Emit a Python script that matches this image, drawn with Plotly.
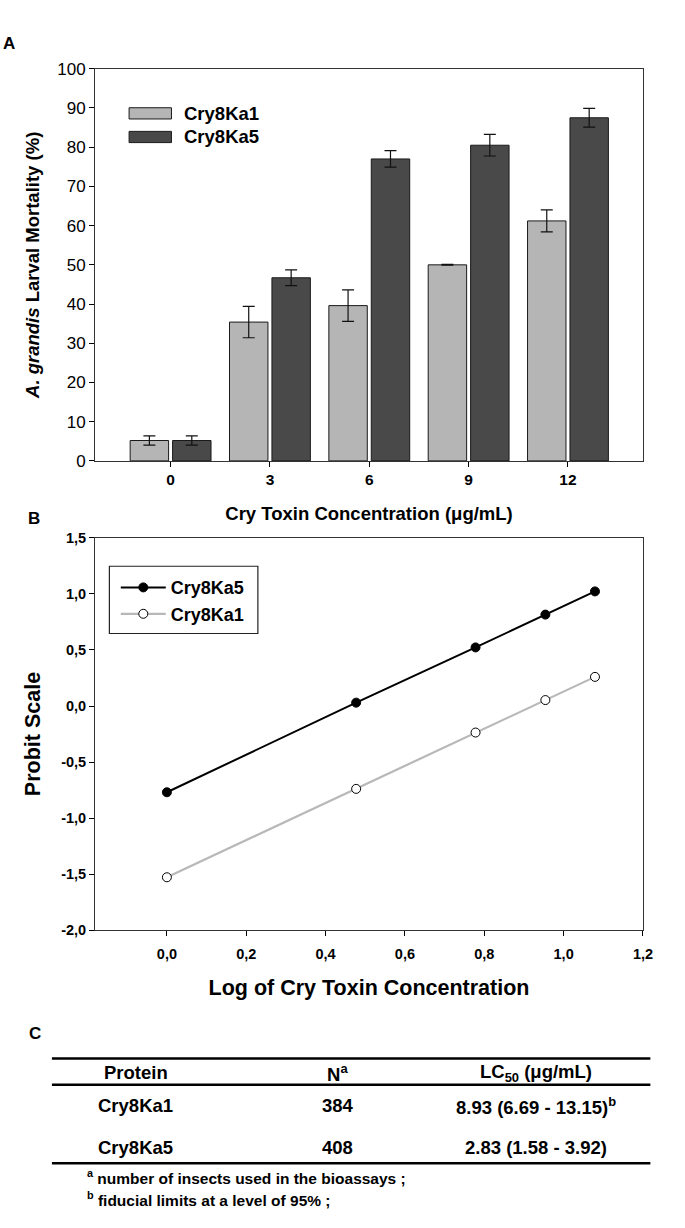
import plotly.graph_objects as go

# ---------------- Data ----------------
conc_labels = ["0", "3", "6", "9", "12"]
cry8ka1_mort = [5.2, 35.4, 39.6, 50.0, 61.2]
cry8ka1_err = [1.2, 4.0, 4.0, 0.1, 2.8]
cry8ka5_mort = [5.2, 46.7, 77.0, 80.5, 87.5]
cry8ka5_err = [1.2, 2.0, 2.1, 2.75, 2.4]

log_conc = [0.0, 0.477, 0.778, 0.954, 1.079]
probit_ka5 = [-0.77, 0.03, 0.523, 0.816, 1.023]
probit_ka1 = [-1.529, -0.74, -0.237, 0.053, 0.26]

probit_ticks = [-2.0, -1.5, -1.0, -0.5, 0.0, 0.5, 1.0, 1.5]
log_ticks = [0.0, 0.2, 0.4, 0.6, 0.8, 1.0, 1.2]

tbl_protein = ["Cry8Ka1", "Cry8Ka5"]
tbl_n = ["384", "408"]
tbl_lc50 = ["8.93 (6.69 - 13.15)<sup>b</sup>", "2.83 (1.58 - 3.92)"]
footnotes = ["<sup>a</sup> number of insects used in the bioassays ;",
             "<sup>b</sup> fiducial limits at a level of 95% ;"]

LIGHT = "#b5b5b5"
DARK = "#494949"
FONT = "Liberation Sans, Arial, sans-serif"
W, H = 685, 1228


def px(x):
    return x / W


def py(y):
    return 1 - y / H


def comma(v):
    return f"{v:.1f}".replace(".", ",")


fig = go.Figure()
xpos = list(range(len(conc_labels)))

fig.add_trace(go.Bar(
    x=xpos, y=cry8ka1_mort, name="Cry8Ka1", marker=dict(color=LIGHT, line=dict(color="#1a1a1a", width=1)),
    error_y=dict(type="data", array=cry8ka1_err, color="#111", thickness=1.2, width=6),
    xaxis="x", yaxis="y", showlegend=False))
fig.add_trace(go.Bar(
    x=xpos, y=cry8ka5_mort, name="Cry8Ka5", marker=dict(color=DARK, line=dict(color="#1a1a1a", width=1)),
    error_y=dict(type="data", array=cry8ka5_err, color="#111", thickness=1.2, width=6),
    xaxis="x", yaxis="y", showlegend=False))

fig.add_trace(go.Scatter(
    x=log_conc, y=probit_ka5, name="Cry8Ka5", mode="lines+markers",
    line=dict(color="black", width=2),
    marker=dict(color="black", size=9, line=dict(color="black", width=1)),
    xaxis="x2", yaxis="y2"))
fig.add_trace(go.Scatter(
    x=log_conc, y=probit_ka1, name="Cry8Ka1", mode="lines+markers",
    line=dict(color="#b8b8b8", width=2.2),
    marker=dict(color="white", size=9, line=dict(color="black", width=1)),
    xaxis="x2", yaxis="y2"))

xdom = [px(96.5), px(652.5)]

fig.update_layout(
    width=W, height=H, margin=dict(l=0, r=0, t=0, b=0),
    paper_bgcolor="white", plot_bgcolor="white",
    font=dict(family=FONT, color="black"),
    barmode="group", bargap=0.146, bargroupgap=0.094,
    xaxis=dict(domain=xdom, anchor="y", range=[-0.76, 4.755],
               tickvals=xpos, ticktext=conc_labels,
               tickfont=dict(size=15.5, family=FONT, weight="bold"),
               ticks="outside", ticklen=5, tickcolor="black",
               showline=True, linecolor="#333", linewidth=1, mirror=True,
               showgrid=False, zeroline=False,
               title=dict(text="<b>Cry Toxin Concentration (μg/mL)</b>",
                          font=dict(size=18.5, family=FONT), standoff=19)),
    yaxis=dict(domain=[py(459), py(60.7)], anchor="x", range=[0, 100], dtick=10,
               tickfont=dict(size=17, family=FONT),
               ticks="outside", ticklen=5, tickcolor="black",
               showline=True, linecolor="#333", linewidth=1, mirror=True,
               showgrid=False, zeroline=False,
               title=dict(text="<b><i>A. grandis</i> Larval Mortality (%)</b>",
                          font=dict(size=18.5, family=FONT), standoff=12)),
    xaxis2=dict(domain=xdom, anchor="y2", range=[-0.181, 1.2],
                tickvals=log_ticks, ticktext=[comma(v) for v in log_ticks],
                tickfont=dict(size=14.5, family=FONT, weight="bold"),
                ticks="outside", ticklen=5, tickcolor="black",
                showline=True, linecolor="#333", linewidth=1, mirror=True,
                showgrid=False, zeroline=False, ticklabelstandoff=6,
                title=dict(text="<b>Log of Cry Toxin Concentration</b>",
                           font=dict(size=21.5, family=FONT), standoff=18)),
    yaxis2=dict(domain=[py(935.5), py(537.3)], anchor="x2", range=[-2.0, 1.5],
                tickvals=probit_ticks, ticktext=[comma(v) for v in probit_ticks],
                tickfont=dict(size=14.5, family=FONT, weight="bold"),
                ticks="outside", ticklen=5, tickcolor="black",
                showline=True, linecolor="#333", linewidth=1, mirror=True,
                showgrid=False, zeroline=False,
                title=dict(text="<b>Probit Scale</b>",
                           font=dict(size=21.5, family=FONT), standoff=14)),
    legend=dict(x=px(117.5), y=py(569), xanchor="left", yanchor="top",
                borderwidth=0, bgcolor="rgba(0,0,0,0)",
                font=dict(size=18, family=FONT, weight="bold"),
                itemwidth=45, tracegroupgap=0),
)

ann = []
shapes = []

# legend frame for probit panel
shapes.append(dict(type="rect", xref="paper", yref="paper",
                   x0=px(111), x1=px(261.7), y0=py(634.3), y1=py(566),
                   fillcolor="rgba(0,0,0,0)", line=dict(color="#222", width=1.2), layer="above"))

# panel letters
for letter, xx, yy in [("A", 9.5, 35.5), ("B", 34, 517), ("C", 36, 1041)]:
    ann.append(dict(text=f"<b>{letter}</b>", x=px(xx), y=py(yy), xref="paper", yref="paper",
                    showarrow=False, font=dict(size=17, family=FONT), xanchor="center", yanchor="middle"))

# manual legend for bar chart
for i, (nm, col) in enumerate([("Cry8Ka1", LIGHT), ("Cry8Ka5", DARK)]):
    yc = 106 + i * 24
    shapes.append(dict(type="rect", xref="paper", yref="paper",
                       x0=px(131), x1=px(174), y0=py(yc - 5.7), y1=py(yc + 5.7),
                       fillcolor=col, line=dict(color="#1a1a1a", width=1)))
    ann.append(dict(text=f"<b>{nm}</b>", x=px(185), y=py(yc), xref="paper", yref="paper",
                    showarrow=False, xanchor="left", yanchor="middle", font=dict(size=18.5, family=FONT)))

# table
for yy in [1066, 1092.7, 1172.3]:
    shapes.append(dict(type="line", xref="paper", yref="paper", x0=px(52.7), x1=px(660),
                       y0=py(yy), y1=py(yy), line=dict(color="black", width=2.5)))
col_x = [138, 342.5, 544]
headers = ["<b>Protein</b>", "<b>N<sup>a</sup></b>", "<b>LC<sub>50</sub> (μg/mL)</b>"]
for cx, h in zip(col_x, headers):
    ann.append(dict(text=h, x=px(cx), y=py(1080.7), xref="paper", yref="paper", showarrow=False,
                    xanchor="center", yanchor="middle", font=dict(size=18.5, family=FONT)))
for r, yy in enumerate([1114, 1156.7]):
    for cx, val in zip(col_x, [tbl_protein[r], tbl_n[r], tbl_lc50[r]]):
        ann.append(dict(text=f"<b>{val}</b>", x=px(cx), y=py(yy), xref="paper", yref="paper",
                        showarrow=False, xanchor="center", yanchor="middle",
                        font=dict(size=18.5, family=FONT)))
for i, (fn, yy) in enumerate(zip(footnotes, [1186.7, 1208.3])):
    ann.append(dict(text=f"<b>{fn}</b>", x=px(86), y=py(yy), xref="paper", yref="paper",
                    showarrow=False, xanchor="left", yanchor="middle", font=dict(size=15.5, family=FONT)))

fig.update_layout(annotations=ann, shapes=shapes)
fig.write_html("out.html", config={"displayModeBar": False},
               post_script="document.body.style.margin='0';")
